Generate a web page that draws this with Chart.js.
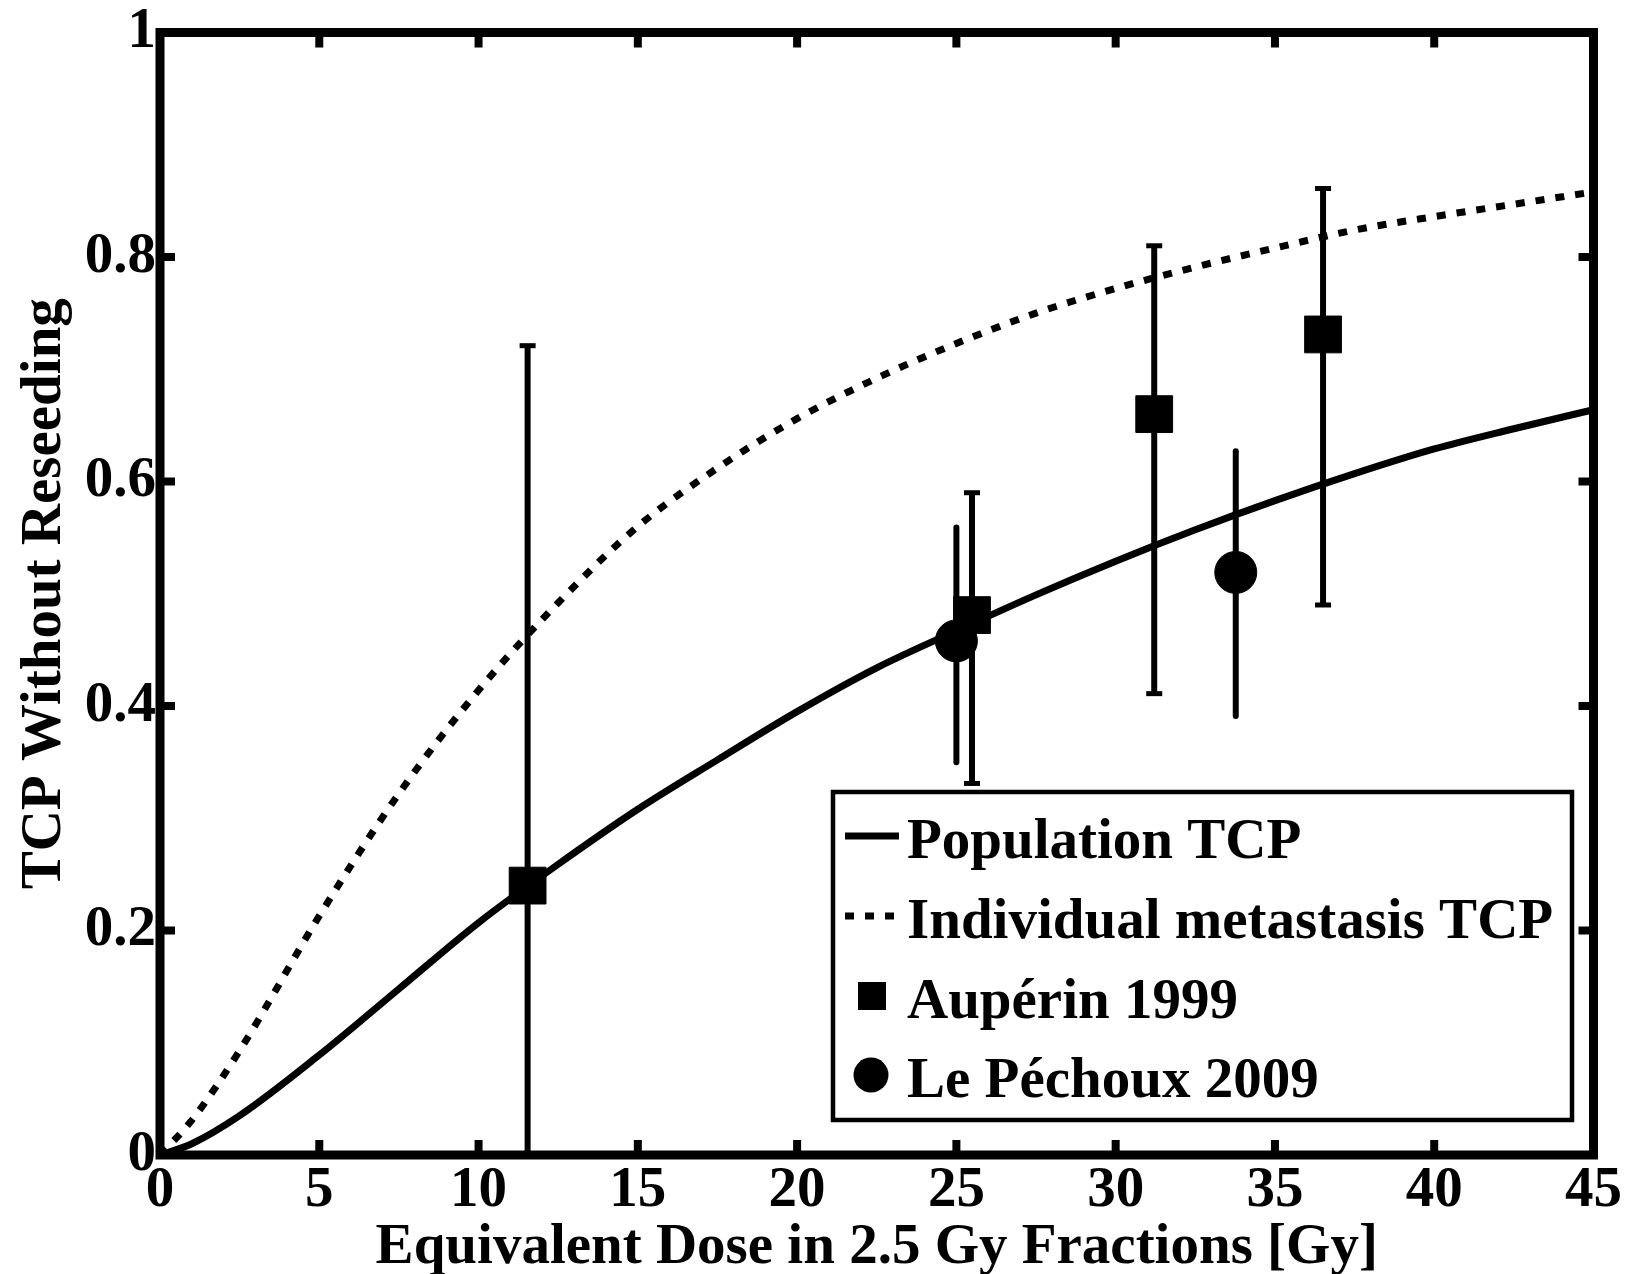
<!DOCTYPE html>
<html>
<head>
<meta charset="utf-8">
<script src="https://cdn.jsdelivr.net/npm/chart.js@4.4.1/dist/chart.umd.min.js"></script>
<style>
html,body{margin:0;padding:0;background:#fff;}
#wrap{width:1630px;height:1274px;position:relative;}
</style>
</head>
<body>
<div id="wrap"><canvas id="c"></canvas></div>
<script>
// ---- data ----
const curveDose      = [0, 1, 2.5, 5, 7.5, 10, 12.5, 15, 17.5, 20, 22.5, 25, 27.5, 30, 32.5, 35, 37.5, 40, 42.5, 45];
const populationTCP  = [0, 0.010, 0.035, 0.089, 0.148, 0.207, 0.259, 0.308, 0.352, 0.395, 0.434, 0.467, 0.499, 0.529, 0.557, 0.583, 0.607, 0.629, 0.647, 0.664];
const individualTCP  = [0, 0.031, 0.093, 0.213, 0.322, 0.414, 0.492, 0.560, 0.612, 0.656, 0.692, 0.723, 0.750, 0.772, 0.791, 0.808, 0.824, 0.836, 0.847, 0.858];

const auperinDose = [11.54, 25.49, 31.21, 36.51];
const auperinTCP  = [0.240, 0.481, 0.660, 0.731];
const auperinLow  = [0.000, 0.331, 0.411, 0.490];
const auperinHigh = [0.721, 0.590, 0.810, 0.861];

const pechouxDose = [25.0, 33.77];
const pechouxTCP  = [0.458, 0.519];
const pechouxLow  = [0.350, 0.391];
const pechouxHigh = [0.559, 0.627];

const xTicks = [0, 5, 10, 15, 20, 25, 30, 35, 40, 45];
const xTickLabels = ['0', '5', '10', '15', '20', '25', '30', '35', '40', '45'];
const yTicks = [0, 0.2, 0.4, 0.6, 0.8, 1];
const yTickLabels = ['0', '0.2', '0.4', '0.6', '0.8', '1'];

const seriesLabels = ['Population TCP', 'Individual metastasis TCP', 'Aupérin 1999', 'Le Péchoux 2009'];
const xTitle = 'Equivalent Dose in 2.5 Gy Fractions [Gy]';
const yTitle = 'TCP Without Reseeding';

// ---- styling ----
const FAMILY = '"Liberation Serif", "Times New Roman", serif';
const FONT = {family: FAMILY, weight: 'bold', size: 57, lineHeight: 1};

function pts(xs, ys) { return xs.map((x, i) => ({x: x, y: ys[i]})); }

const errorBarPlugin = {
  id: 'errorBars',
  beforeDatasetsDraw(chart) {
    const {ctx, scales: {x, y}} = chart;
    ctx.save();
    ctx.strokeStyle = '#000';
    ctx.lineWidth = 6;
    ctx.lineCap = 'butt';
    auperinDose.forEach((d, i) => {
      const px = x.getPixelForValue(d);
      const y1 = y.getPixelForValue(auperinLow[i]);
      const y2 = y.getPixelForValue(auperinHigh[i]);
      ctx.beginPath(); ctx.moveTo(px, y1); ctx.lineTo(px, y2); ctx.stroke();
      ctx.save(); ctx.lineWidth = 5;
      [y1, y2].forEach(yy => { ctx.beginPath(); ctx.moveTo(px - 8, yy); ctx.lineTo(px + 8, yy); ctx.stroke(); });
      ctx.restore();
    });
    ctx.lineCap = 'round';
    pechouxDose.forEach((d, i) => {
      const px = x.getPixelForValue(d);
      ctx.beginPath();
      ctx.moveTo(px, y.getPixelForValue(pechouxLow[i]));
      ctx.lineTo(px, y.getPixelForValue(pechouxHigh[i]));
      ctx.stroke();
    });
    ctx.restore();
  }
};

const framePlugin = {
  id: 'frame',
  afterDraw(chart) {
    const {ctx, chartArea: {left, right, top, bottom}, scales: {x, y}} = chart;
    ctx.save();
    ctx.strokeStyle = '#000';
    ctx.lineCap = 'butt';
    ctx.lineWidth = 8;
    const seg = (a, b, c, d) => { ctx.beginPath(); ctx.moveTo(a, b); ctx.lineTo(c, d); ctx.stroke(); };
    xTicks.forEach(v => {
      if (v <= x.min || v >= x.max) return;
      const px = x.getPixelForValue(v);
      seg(px, bottom, px, bottom - 15);
      seg(px, top, px, top + 15);
    });
    yTicks.forEach(v => {
      if (v <= y.min || v >= y.max) return;
      const py = y.getPixelForValue(v);
      seg(left, py, left + 15, py);
      seg(right, py, right - 15, py);
    });
    ctx.lineWidth = 9;
    ctx.lineJoin = 'miter';
    ctx.strokeRect(left, top, right - left, bottom - top);

    // legend box
    const box = {l: 833, t: 792, r: 1572, b: 1120};
    ctx.fillStyle = '#fff';
    ctx.fillRect(box.l, box.t, box.r - box.l, box.b - box.t);
    ctx.lineWidth = 4.5;
    ctx.strokeRect(box.l, box.t, box.r - box.l, box.b - box.t);
    ctx.fillStyle = '#000';
    ctx.font = 'bold 57px ' + FAMILY;
    ctx.textBaseline = 'alphabetic';
    ctx.textAlign = 'left';
    const baselines = [858, 938, 1018, 1097];
    chart.data.datasets.forEach((ds, i) => {
      const bl = baselines[i];
      const cy = bl - 22;
      ctx.save();
      if (i < 2) {
        ctx.lineWidth = ds.borderWidth;
        ctx.setLineDash(ds.borderDash || []);
        ctx.beginPath(); ctx.moveTo(845, cy); ctx.lineTo(899, cy); ctx.stroke();
      } else if (ds.pointStyle === 'rect') {
        ctx.fillRect(858, cy - 14, 28, 28);
      } else {
        ctx.beginPath(); ctx.arc(871, cy, 17.5, 0, Math.PI * 2); ctx.fill();
      }
      ctx.restore();
      ctx.fillText(ds.label, 907, bl);
    });
    ctx.restore();
  }
};

new Chart(document.getElementById('c'), {
  type: 'scatter',
  data: {
    datasets: [
      {
        label: seriesLabels[0],
        data: pts(curveDose, populationTCP),
        showLine: true,
        borderColor: '#000',
        borderWidth: 7,
        pointRadius: 0,
        cubicInterpolationMode: 'monotone',
        fill: false
      },
      {
        label: seriesLabels[1],
        data: pts(curveDose, individualTCP),
        showLine: true,
        borderColor: '#000',
        borderWidth: 7,
        borderDash: [9, 11],
        borderCapStyle: 'butt',
        pointRadius: 0,
        cubicInterpolationMode: 'monotone',
        fill: false
      },
      {
        label: seriesLabels[2],
        data: pts(auperinDose, auperinTCP),
        showLine: false,
        pointStyle: 'rect',
        pointRadius: 26,
        backgroundColor: '#000',
        borderColor: '#000',
        borderWidth: 1
      },
      {
        label: seriesLabels[3],
        data: pts(pechouxDose, pechouxTCP),
        showLine: false,
        pointStyle: 'circle',
        pointRadius: 21,
        backgroundColor: '#000',
        borderColor: '#000',
        borderWidth: 1
      }
    ]
  },
  options: {
    responsive: true,
    maintainAspectRatio: false,
    animation: false,
    events: [],
    layout: {padding: {top: 31, right: 33, left: 0, bottom: 0}},
    plugins: {legend: {display: false}, tooltip: {enabled: false}},
    scales: {
      x: {
        type: 'linear', min: 0, max: 45,
        afterBuildTicks: s => { s.ticks = xTicks.map(v => ({value: v})); },
        afterFit: s => { s.height = 119; },
        ticks: {
          callback: v => xTickLabels[xTicks.indexOf(v)],
          font: FONT, color: '#000', padding: 8, maxRotation: 0, autoSkip: false
        },
        grid: {display: false, drawTicks: false},
        border: {display: false},
        title: {display: true, text: xTitle, font: FONT, color: '#000', padding: {top: 0, bottom: -3}}
      },
      y: {
        type: 'linear', min: 0, max: 1,
        afterBuildTicks: s => { s.ticks = yTicks.map(v => ({value: v})); },
        afterFit: s => { s.width = 160; },
        ticks: {
          callback: v => yTickLabels[yTicks.findIndex(t => Math.abs(t - v) < 1e-9)],
          font: FONT, color: '#000', padding: 4, autoSkip: false
        },
        grid: {display: false, drawTicks: false},
        border: {display: false},
        title: {display: true, text: yTitle, font: FONT, color: '#000', padding: {top: 17, bottom: 0}}
      }
    }
  },
  plugins: [errorBarPlugin, framePlugin]
});
</script>
</body>
</html>
